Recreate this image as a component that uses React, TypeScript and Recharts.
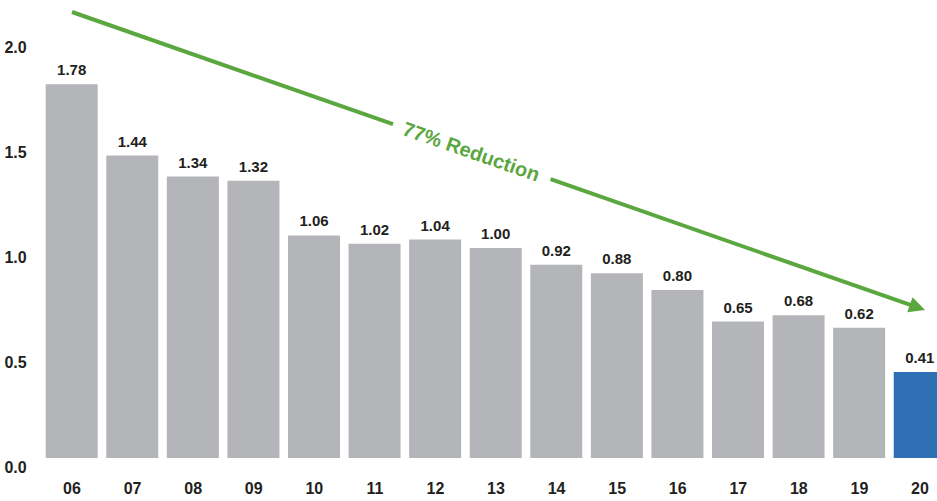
import { BarChart, Bar, XAxis, YAxis, Cell, LabelList } from "recharts";

const years = ["06", "07", "08", "09", "10", "11", "12", "13", "14", "15", "16", "17", "18", "19", "20"];
const rates = [1.78, 1.44, 1.34, 1.32, 1.06, 1.02, 1.04, 1.0, 0.92, 0.88, 0.8, 0.65, 0.68, 0.62, 0.41];
const yTicks = [0, 0.5, 1.0, 1.5, 2.0];

const GRAY = "#b4b5b9";
const BLUE = "#2e70b3";
const GREEN = "#5ba73f";
const INK = "#231f20";
const FONT = "'Liberation Sans', Arial, Helvetica, sans-serif";

const data = years.map((y, i) => ({ year: y, value: rates[i] }));

function YTick(props: any) {
  const { x, y, payload } = props;
  return (
    <text x={x} y={y + 15} textAnchor="end" fontFamily={FONT} fontWeight={700} fontSize={16} fill={INK}>
      {Number(payload.value).toFixed(1)}
    </text>
  );
}

function XTick(props: any) {
  const { x, y, payload } = props;
  return (
    <text x={x} y={y + 28} textAnchor="middle" fontFamily={FONT} fontWeight={700} fontSize={16} fill={INK}>
      {payload.value}
    </text>
  );
}

function ValueLabel(props: any) {
  const { x, y, width, value } = props;
  return (
    <text x={x + width / 2} y={y - 9} textAnchor="middle" fontFamily={FONT} fontWeight={700} fontSize={15} fill={INK}>
      {Number(value).toFixed(2)}
    </text>
  );
}

// annotation arrow, drawn over the chart
function Arrow() {
  const x1 = 72, y1 = 12, x2 = 925, y2 = 310;
  const dx = x2 - x1, dy = y2 - y1;
  const len = Math.hypot(dx, dy);
  const ux = dx / len, uy = dy / len;
  const at = (t: number) => [x1 + ux * t, y1 + uy * t];
  const [g1x, g1y] = at(340);
  const [g2x, g2y] = at(507);
  const head = 16;
  const [bx, by] = at(len - head);
  const [lx, ly] = at(len - head + 2);
  const px = -uy * 8, py = ux * 8;
  const angle = (Math.atan2(dy, dx) * 180) / Math.PI;
  const [tx, ty] = at(423);
  return (
    <svg width={937} height={501} style={{ position: "absolute", left: 0, top: 0, pointerEvents: "none" }}>
      <line x1={x1} y1={y1} x2={g1x} y2={g1y} stroke={GREEN} strokeWidth={4} />
      <line x1={g2x} y1={g2y} x2={lx} y2={ly} stroke={GREEN} strokeWidth={4} />
      <polygon points={`${x2},${y2} ${bx + px},${by + py} ${bx - px},${by - py}`} fill={GREEN} />
      <text
        x={tx}
        y={ty}
        transform={`rotate(${angle} ${tx} ${ty})`}
        textAnchor="middle"
        dominantBaseline="central"
        fontFamily={FONT}
        fontWeight={700}
        fontSize={20}
        fill={GREEN}
      >
        77% Reduction
      </text>
    </svg>
  );
}

export default function App() {
  return (
    <div style={{ position: "absolute", left: 0, top: 0, width: 937, height: 501, overflow: "hidden", background: "#fff" }}>
      <BarChart width={951} height={501} data={data} margin={{ top: 38, right: 0.7, bottom: 0, left: 0 }}>
        <XAxis dataKey="year" height={43} axisLine={false} tickLine={false} tick={<XTick />} interval={0} />
        <YAxis
          width={41.7}
          domain={[0, 2]}
          ticks={yTicks}
          axisLine={false}
          tickLine={false}
          tickMargin={9}
          tick={<YTick />}
        />
        <Bar dataKey="value" barSize={52} isAnimationActive={false}>
          {data.map((d, i) => (
            <Cell key={d.year} fill={i === data.length - 1 ? BLUE : GRAY} />
          ))}
          <LabelList dataKey="value" content={<ValueLabel />} />
        </Bar>
      </BarChart>
      <Arrow />
    </div>
  );
}
